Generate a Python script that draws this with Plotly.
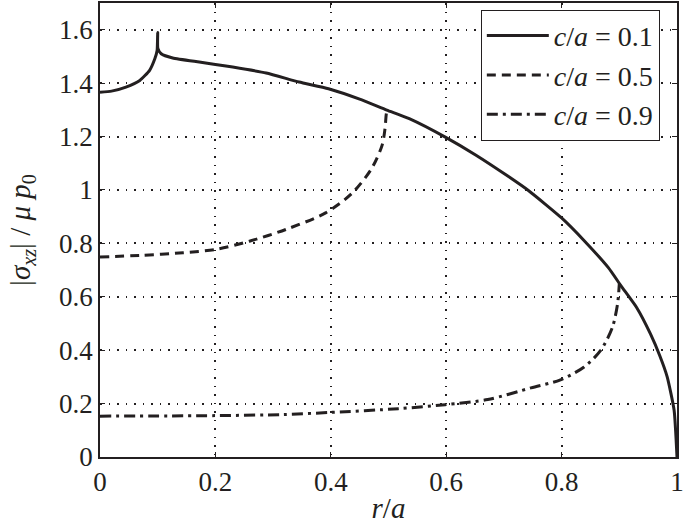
import plotly.graph_objects as go

# c/a = 0.1 (solid)
x_01 = [0, 0.02, 0.045, 0.069, 0.086, 0.095, 0.099, 0.1, 0.1003, 0.106, 0.126, 0.172, 0.2, 0.23,
        0.288, 0.345, 0.396, 0.45, 0.497, 0.536, 0.6, 0.651, 0.708, 0.743, 0.8, 0.84,
        0.881, 0.903, 0.93, 0.954, 0.97, 0.983, 0.995, 1.0]
y_01 = [1.366, 1.37, 1.385, 1.41, 1.448, 1.491, 1.522, 1.59, 1.53, 1.51, 1.494, 1.479, 1.47, 1.46,
        1.438, 1.404, 1.379, 1.34, 1.299, 1.267, 1.196, 1.131, 1.05, 0.997, 0.895, 0.808,
        0.709, 0.641, 0.56, 0.461, 0.38, 0.3, 0.175, 0.0]

# c/a = 0.5 (dashed)
x_05 = [0, 0.07, 0.144, 0.2, 0.259, 0.322, 0.391, 0.437, 0.471, 0.489, 0.494, 0.497, 0.5]
y_05 = [0.749, 0.755, 0.765, 0.777, 0.808, 0.852, 0.914, 0.988, 1.081, 1.168, 1.23, 1.292, 1.3]

# c/a = 0.9 (dash-dot)
x_09 = [0, 0.2, 0.317, 0.4, 0.517, 0.598, 0.672, 0.747, 0.798, 0.839, 0.868, 0.888, 0.897, 0.9]
y_09 = [0.153, 0.155, 0.159, 0.167, 0.181, 0.196, 0.215, 0.259, 0.289, 0.337, 0.4, 0.485, 0.574, 0.648]

names = ["<i>c</i>/<i>a</i> = 0.1", "<i>c</i>/<i>a</i> = 0.5", "<i>c</i>/<i>a</i> = 0.9"]

FONT = "Liberation Serif"
INK = "#231f20"

fig = go.Figure()
fig.add_trace(go.Scatter(x=x_01, y=y_01, mode="lines", name=names[0],
                         line=dict(color=INK, width=3, shape="spline", smoothing=0.5)))
fig.add_trace(go.Scatter(x=x_05, y=y_05, mode="lines", name=names[1],
                         line=dict(color=INK, width=3, dash="9px,6px",
                                   shape="spline", smoothing=0.8)))
fig.add_trace(go.Scatter(x=x_09, y=y_09, mode="lines", name=names[2],
                         line=dict(color=INK, width=3, dash="11px,5px,3px,5px",
                                   shape="spline", smoothing=0.8)))

axis_common = dict(
    showline=True, linecolor=INK, linewidth=1.5, mirror="ticks",
    ticks="inside", ticklen=5, tickcolor=INK,
    showgrid=True, gridcolor=INK, griddash="1.5px,7px", gridwidth=1.5,
    zeroline=False, tickfont=dict(family=FONT, size=27, color=INK),
    ticklabeloverflow="allow",
)

fig.update_xaxes(range=[0, 1], tickvals=[0, 0.2, 0.4, 0.6, 0.8, 1],
                 ticktext=["0", "0.2", "0.4", "0.6", "0.8", "1"],
                 title=dict(text="<i>r</i>/<i>a</i>", standoff=2,
                            font=dict(family=FONT, size=29, color=INK)),
                 **axis_common)
fig.update_yaxes(range=[0, 1.7], tickvals=[0, 0.2, 0.4, 0.6, 0.8, 1, 1.2, 1.4, 1.6],
                 ticktext=["0", "0.2", "0.4", "0.6", "0.8", "1", "1.2", "1.4", "1.6"],
                 title=dict(text="|<i>σ</i><sub><i>xz</i></sub>| / <i>μ p</i><sub>0</sub>",
                            standoff=20,
                            font=dict(family=FONT, size=29, color=INK)),
                 **axis_common)

fig.update_layout(
    width=685, height=528,
    margin=dict(l=100, r=5, t=1, b=71),
    plot_bgcolor="white", paper_bgcolor="white",
    font=dict(family=FONT, color=INK),
    legend=dict(x=0.66, y=0.985, xanchor="left", yanchor="top",
                bgcolor="white", bordercolor=INK, borderwidth=1,
                font=dict(family=FONT, size=28, color=INK),
                itemwidth=62, tracegroupgap=0),
    showlegend=True,
)

fig.write_html("out.html", config={"displayModeBar": False},
               post_script="document.body.style.margin='0px';")
